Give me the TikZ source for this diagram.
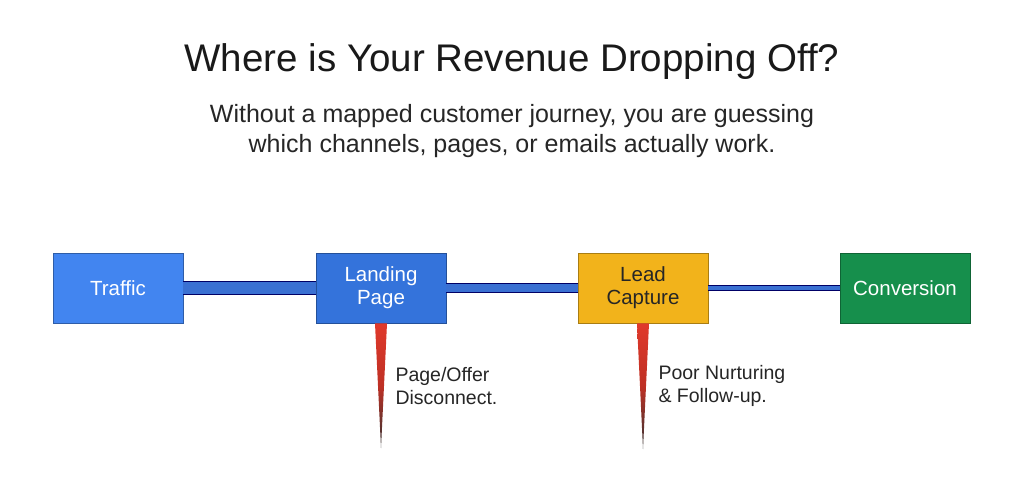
\documentclass[tikz,border=0pt]{standalone}
\usepackage{fontspec}
\setmainfont{Liberation Sans}
\begin{document}
\begin{tikzpicture}[x=1pt,y=-1pt,
  stage/.style={draw=#1!70!black, line width=0.8pt, minimum width=130pt, minimum height=70pt, inner sep=0pt, align=center, font=\fontsize{20.5}{23}\selectfont},
  conn/.style={draw=black!60!blue, line width=0.8pt, double=connblue, double distance=#1},
  spike/.style={top color=spikered, bottom color=black!80, middle color=spikered!85!black},
  note/.style={anchor=west, align=left, font=\fontsize{19.5}{23}\selectfont, text=black!85}
]
\definecolor{bluea}{HTML}{4285F0}
\definecolor{blueb}{HTML}{3473DB}
\definecolor{yel}{HTML}{F2B31B}
\definecolor{grn}{HTML}{168F4C}
\definecolor{connblue}{HTML}{3A70D2}
\definecolor{spikered}{HTML}{E0392B}
\useasboundingbox (0,0) rectangle (1024,499);
\fill[white] (0,0) rectangle (1024,499);
\node[font=\fontsize{38.5}{44}\selectfont, text=black!90] (title) at (512,62) {Where is Your Revenue Dropping Off?};
\node[font=\fontsize{25}{30}\selectfont, align=center, text=black!85] (sub) at (512,131) {Without a mapped customer journey, you are guessing\\which channels, pages, or emails actually work.};
\node[stage=bluea, fill=bluea, text=white] (traffic) at (118,288) {Traffic};
\node[stage=blueb, fill=blueb, text=white] (landing) at (381,288) {Landing\\Page};
\node[stage=yel, fill=yel, text=black!85] (lead) at (643,288) {Lead\\Capture};
\node[stage=grn, fill=grn, text=white] (conv) at (905,288) {Conversion};
\draw[conn=11.5pt] (traffic.east) -- (landing.west);
\draw[conn=8.5pt] (landing.east) -- (lead.west);
\draw[conn=4.5pt] (lead.east) -- (conv.west);
\coordinate (tip1) at (381,448);
\coordinate (tip2) at (643,449);
\shade[spike] ([xshift=-6pt]landing.south) -- ([xshift=6pt]landing.south) -- (tip1) -- cycle;
\shade[spike] ([xshift=-6pt]lead.south) -- ([xshift=6pt]lead.south) -- (tip2) -- cycle;
\node[note] (n1) at (392,386) {Page/Offer\\Disconnect.};
\node[note] (n2) at (655,386) {Poor Nurturing\\\& Follow-up.};
\end{tikzpicture}
\end{document}
